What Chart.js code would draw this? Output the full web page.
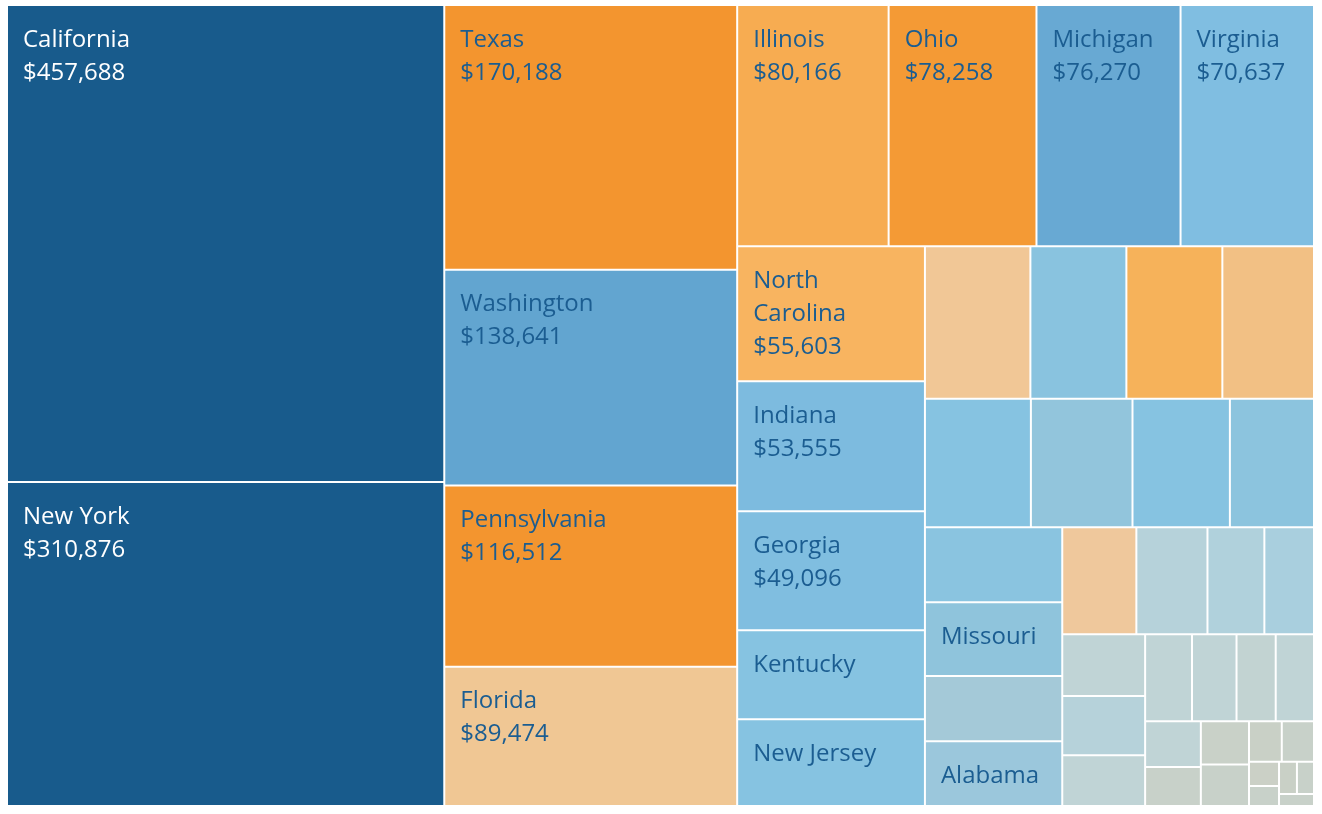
<!DOCTYPE html>
<html>
<head>
<meta charset="utf-8">
<script src="https://cdn.jsdelivr.net/npm/chart.js@4.4.0/dist/chart.umd.min.js"></script>
<style>
html,body{margin:0;padding:0;background:#ffffff;}
#wrap{width:1322px;height:814px;position:relative;}
</style>
</head>
<body>
<div id="wrap"><canvas id="c"></canvas></div>
<script>
// ---- data ----
const states = ["California","New York","Texas","Washington","Pennsylvania","Florida",
  "Illinois","Ohio","Michigan","Virginia",
  "North Carolina","Indiana","Georgia","Kentucky","New Jersey",
  "Arizona","Wisconsin","Colorado","Tennessee",
  "Minnesota","Massachusetts","Delaware","Maryland",
  "Rhode Island","Missouri","Oklahoma","Alabama",
  "Oregon","Nevada","Connecticut","Arkansas",
  "Utah","Mississippi","Louisiana",
  "Vermont","South Carolina","Nebraska","New Hampshire",
  "Montana","New Mexico","Iowa","Idaho","Kansas","District of Columbia",
  "Wyoming","South Dakota","Maine","West Virginia","North Dakota"];

const sales = [457688,310876,170188,138641,116512,89474,
  80166,78258,76270,70637,
  55603,53555,49096,36592,35764,
  35282,32115,32108,30662,
  29863,28634,27451,23706,
  22628,22205,19683,19511,
  17431,16729,13384,11678,
  11220,10771,9217,
  8929,8482,7465,7293,
  5589,4784,4580,4382,2914,2865,
  1603,1316,1271,1210,920];

const cellColors = ["#185b8c","#185b8c","#f3952f","#62a5d0","#f3952f","#f0c794",
  "#f7ac51","#f49a35","#68a9d3","#80bee1",
  "#f8b460","#7dbbdf","#80bee0","#86c3e1","#86c3e1",
  "#f1c796","#89c3df","#f6b25a","#f2c084",
  "#86c3e1","#92c5dc","#86c3e1","#8cc4de",
  "#8ac4e0","#8fc4dc","#a4c9d8","#9bc7dc",
  "#efc89c","#b6d2da","#b0d1dc","#a9cfde",
  "#c0d4d6","#b6d2da","#c0d4d6",
  "#c0d4d6","#c0d4d6","#c2d3d2","#c0d4d6",
  "#c0d4d6","#c8d1c9","#c9d1c8","#c8d1c9","#c9d0c6","#c8d1c9",
  "#cbd0c6","#c8d1c9","#c9d0c6","#c8d1c9","#c8d1c9"];

// 2 = name + value, 1 = name only, 0 = no label
const labelLines = [2,2,2,2,2,2, 2,2,2,2, 2,2,2,1,1, 0,0,0,0, 0,0,0,0, 0,1,0,1,
  0,0,0,0, 0,0,0, 0,0,0,0, 0,0,0,0,0,0, 0,0,0,0,0];

// number of states in each successive strip of the treemap
const stripSizes = [2,4,4,5,4,4,4,4,3,4,2,2,2,2,2,1];

// ---- strip treemap layout (derived from values) ----
function stripLayout(values, strips, box) {
  const rects = [];
  let remaining = values.reduce((a, b) => a + b, 0);
  let {x, y, w, h} = box;
  let idx = 0;
  for (const n of strips) {
    const vals = values.slice(idx, idx + n);
    const s = vals.reduce((a, b) => a + b, 0);
    if (w >= h) {
      const sw = w * s / remaining;
      let cy = y;
      for (const v of vals) { const hh = h * v / s; rects.push({x: x, y: cy, w: sw, h: hh}); cy += hh; }
      x += sw; w -= sw;
    } else {
      const sh = h * s / remaining;
      let cx = x;
      for (const v of vals) { const ww = w * v / s; rects.push({x: cx, y: y, w: ww, h: sh}); cx += ww; }
      y += sh; h -= sh;
    }
    remaining -= s; idx += n;
  }
  return rects;
}

class StripTreemapController extends Chart.DatasetController {
  update(mode) {
    const meta = this._cachedMeta;
    this.updateElements(meta.data, 0, meta.data.length, mode);
  }
  updateElements(elems, start, count, mode) {
    const meta = this._cachedMeta;
    const xs = meta.xScale, ys = meta.yScale;
    const ds = this.getDataset();
    const left = xs.getPixelForValue(0), right = xs.getPixelForValue(1);
    const top = ys.getPixelForValue(0), bottom = ys.getPixelForValue(1);
    const rects = stripLayout(ds.data, ds.strips, {x: left, y: top, w: right - left, h: bottom - top});
    for (let i = start; i < start + count; i++) {
      const r = rects[i];
      const props = {
        x: r.x + r.w / 2, y: r.y, base: r.y + r.h, width: r.w, height: r.h,
        horizontal: false, borderSkipped: {}, inflateAmount: 0,
        options: this.resolveDataElementOptions(i, mode)
      };
      this.updateElement(elems[i], i, props, mode);
    }
  }
}
StripTreemapController.id = 'stripTreemap';
StripTreemapController.defaults = { datasetElementType: false, dataElementType: 'bar' };
StripTreemapController.overrides = { scales: { x: {type: 'linear'}, y: {type: 'linear'} } };
Chart.register(StripTreemapController);

function luminance(hex) {
  const n = parseInt(hex.slice(1), 16);
  const r = (n >> 16) & 255, g = (n >> 8) & 255, b = n & 255;
  return (0.299 * r + 0.587 * g + 0.114 * b) / 255;
}

const labelPlugin = {
  id: 'cellLabels',
  afterDatasetsDraw(chart) {
    const ctx = chart.ctx;
    const meta = chart.getDatasetMeta(0);
    ctx.save();
    ctx.font = '24px "Open Sans"';
    ctx.textBaseline = 'alphabetic';
    ctx.textAlign = 'left';
    meta.data.forEach((el, i) => {
      const n = labelLines[i];
      if (!n) return;
      const left = el.x - el.width / 2, top = el.y, w = el.width;
      let lines = ctx.measureText(states[i]).width > w - 30 ? states[i].split(' ') : [states[i]];
      if (n === 2) lines.push('$' + sales[i].toLocaleString('en-US'));
      ctx.fillStyle = luminance(cellColors[i]) < 0.35 ? '#ffffff' : '#1b5d91';
      lines.forEach((t, k) => ctx.fillText(t, left + 16, top + 41.5 + 33 * k));
    });
    ctx.restore();
  }
};

new Chart(document.getElementById('c'), {
  type: 'stripTreemap',
  data: {
    labels: states,
    datasets: [{
      data: sales,
      strips: stripSizes,
      backgroundColor: cellColors,
      borderColor: '#ffffff',
      borderWidth: 1,
      borderRadius: 0
    }]
  },
  options: {
    responsive: true,
    maintainAspectRatio: false,
    animation: false,
    events: [],
    layout: { padding: { left: 7, top: 5, right: 8, bottom: 8 } },
    scales: {
      x: { type: 'linear', display: false, min: 0, max: 1 },
      y: { type: 'linear', display: false, min: 0, max: 1, reverse: true }
    },
    plugins: { legend: { display: false }, tooltip: { enabled: false } }
  },
  plugins: [labelPlugin]
});
</script>
</body>
</html>
